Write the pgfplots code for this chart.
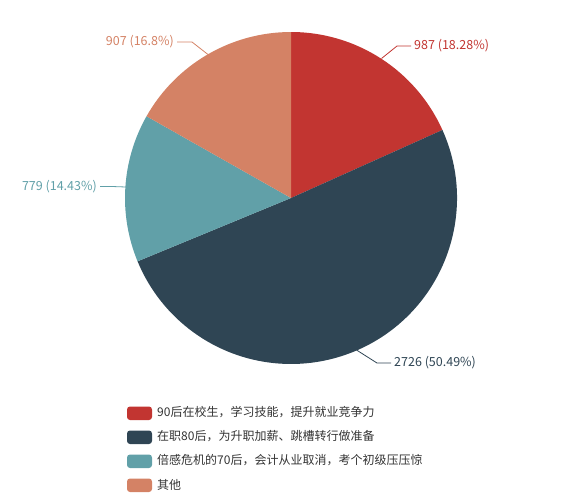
\documentclass[border=0pt]{standalone}
\usepackage{fontspec}
\setmainfont{Noto Sans CJK SC}
\usepackage{pgfplots}
\usepackage{pgfplotstable}
\pgfplotsset{compat=1.18}

\definecolor{cA}{HTML}{C23531}
\definecolor{cB}{HTML}{2F4554}
\definecolor{cC}{HTML}{61A0A8}
\definecolor{cD}{HTML}{D48265}
\definecolor{txt}{HTML}{333333}

\pgfplotstableread{
value
987
2726
779
907
}\piedata

\begin{document}
\begin{tikzpicture}
\pgfplotstablegetelem{0}{value}\of\piedata \let\va\pgfplotsretval
\pgfplotstablegetelem{1}{value}\of\piedata \let\vb\pgfplotsretval
\pgfplotstablegetelem{2}{value}\of\piedata \let\vc\pgfplotsretval
\pgfplotstablegetelem{3}{value}\of\piedata \let\vd\pgfplotsretval
\pgfmathsetmacro\total{\va+\vb+\vc+\vd}
\pgfmathsetmacro\aA{90-360*(\va/\total)}
\pgfmathsetmacro\aB{\aA-360*(\vb/\total)}
\pgfmathsetmacro\aC{\aB-360*(\vc/\total)}
\begin{axis}[
    hide axis,
    scale only axis,
    width=584pt, height=496pt,
    xmin=0, xmax=584, ymin=0, ymax=496,
    y dir=reverse,
    clip=false,
    font=\fontsize{12}{14}\selectfont
]
% slices, clockwise from 12 o'clock, radius 166
\fill[cA] (axis cs:291,198) -- ++(90:166pt) arc[start angle=90, end angle=\aA, radius=166pt] -- cycle;
\fill[cB] (axis cs:291,198) -- ++(\aA:166pt) arc[start angle=\aA, end angle=\aB, radius=166pt] -- cycle;
\fill[cC] (axis cs:291,198) -- ++(\aB:166pt) arc[start angle=\aB, end angle=\aC, radius=166pt] -- cycle;
\fill[cD] (axis cs:291,198) -- ++(\aC:166pt) arc[start angle=\aC, end angle=-270, radius=166pt] -- cycle;

% leader lines and labels
\tikzset{lbl/.style={inner sep=0pt, font=\fontsize{12.5}{14}\selectfont}}
\draw[cA, line width=0.8pt] (axis cs:381.5,58.5) -- (axis cs:397,46) -- (axis cs:411,46);
\node[cA, anchor=west, lbl] at (axis cs:414,46) {987 (18.28\%)};
\draw[cB, line width=0.8pt] (axis cs:356.5,350) -- (axis cs:377,363) -- (axis cs:391,363);
\node[cB, anchor=west, lbl] at (axis cs:394,363) {2726 (50.49\%)};
\draw[cC, line width=0.8pt] (axis cs:126,187) -- (axis cs:112,186.5) -- (axis cs:100,186.5);
\node[cC, anchor=east, lbl] at (axis cs:97,186.5) {779 (14.43\%)};
\draw[cD, line width=0.8pt] (axis cs:208,54.5) -- (axis cs:192,42) -- (axis cs:177,42);
\node[cD, anchor=east, lbl] at (axis cs:174,42) {907 (16.8\%)};

% legend
\fill[cA, rounded corners=3pt] (axis cs:127,406.5) rectangle (axis cs:152,420);
\node[txt, anchor=west, inner sep=0pt] at (axis cs:157,412.5) {90后在校生，学习技能，提升就业竞争力};
\fill[cB, rounded corners=3pt] (axis cs:127,430.5) rectangle (axis cs:152,444);
\node[txt, anchor=west, inner sep=0pt] at (axis cs:157,436.5) {在职80后，为升职加薪、跳槽转行做准备};
\fill[cC, rounded corners=3pt] (axis cs:127,454.5) rectangle (axis cs:152,468);
\node[txt, anchor=west, inner sep=0pt] at (axis cs:157,460.5) {倍感危机的70后，会计从业取消，考个初级压压惊};
\fill[cD, rounded corners=3pt] (axis cs:127,478.5) rectangle (axis cs:152,492);
\node[txt, anchor=west, inner sep=0pt] at (axis cs:157,484.5) {其他};
\end{axis}
\pgfresetboundingbox
\path[use as bounding box] (0,0) rectangle (584pt,496pt);
\end{tikzpicture}%
\end{document}
